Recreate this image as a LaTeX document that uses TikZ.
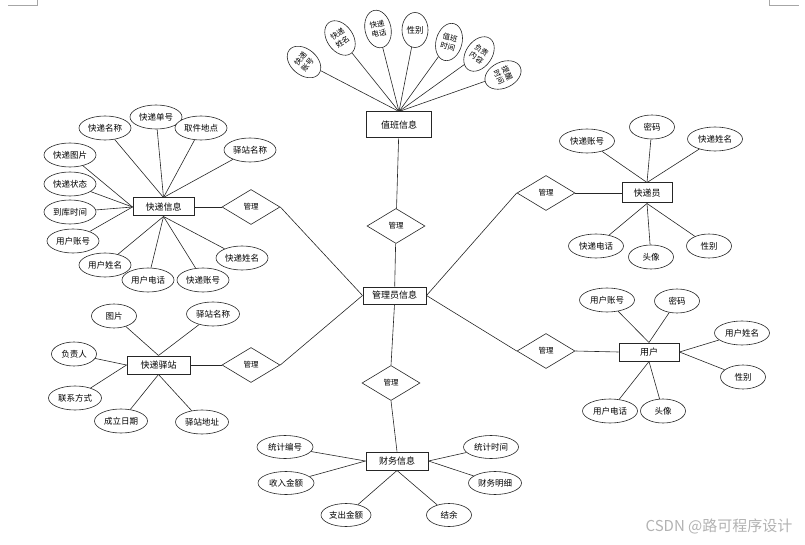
\documentclass[tikz,border=0pt]{standalone}
\usepackage{fontspec}
\newfontfamily\cjk{Noto Sans CJK SC}
\usetikzlibrary{shapes.geometric}
\tikzset{
  lnk/.style={draw=black!85, line width=0.6pt},
  attr/.style={ellipse, draw=black!85, line width=0.6pt, fill=white, inner sep=0pt,
     minimum width=52pt, minimum height=24pt, font=\cjk\fontsize{8.5}{10}\selectfont},
  tattr/.style={ellipse, draw=black!85, line width=0.6pt, fill=white, inner sep=0pt,
     minimum width=26pt, minimum height=38pt, align=center,
     font=\cjk\fontsize{7.5}{9}\selectfont},
  ent/.style={rectangle, draw=black!85, line width=1pt, fill=white, inner sep=0pt,
     minimum height=18pt, font=\cjk\fontsize{9}{10}\selectfont},
  rel/.style={diamond, draw=black!85, line width=0.6pt, fill=white, inner sep=0pt,
     minimum width=58pt, minimum height=35pt, font=\cjk\fontsize{7.5}{9}\selectfont},
  cornermark/.style={draw=black!35, line width=0.5pt}
}
\begin{document}
\begin{tikzpicture}[x=1pt,y=-1pt]
\useasboundingbox (0,0) rectangle (805,545);
\draw[cornermark] (8,5) -- (37,5) -- (37,0);
\draw[cornermark] (769,0) -- (769,5) -- (799,5);

% entities
\node[ent, minimum width=65pt, minimum height=26pt] (zb) at (399,125) {值班信息};
\node[ent, minimum width=63pt, minimum height=17pt] (gl) at (394.5,295.5) {管理员信息};
\node[ent, minimum width=61pt] (kd) at (163.5,207) {快递信息};
\node[ent, minimum width=63pt] (yz) at (158.5,365) {快递驿站};
\node[ent, minimum width=50pt, minimum height=20pt] (kdy) at (647,193) {快递员};
\node[ent, minimum width=60pt] (yh) at (649,352) {用户};
\node[ent, minimum width=62pt] (cw) at (397,461) {财务信息};

% relations
\node[rel] (m1) at (396,226) {管理};
\node[rel] (mkd) at (251,207) {管理};
\node[rel] (myz) at (251,365) {管理};
\node[rel] (mcw) at (391,383) {管理};
\node[rel] (mkdy) at (546,193) {管理};
\node[rel] (myh) at (546,351) {管理};

\draw[lnk] (zb) -- (m1);
\draw[lnk] (m1) -- (gl);
\draw[lnk] (kd.east) -- (mkd.west);
\draw[lnk] (mkd.east) -- (gl.west);
\draw[lnk] (yz.east) -- (myz.west);
\draw[lnk] (myz.east) -- (gl.west);
\draw[lnk] (gl.south) -- (mcw.north);
\draw[lnk] (mcw.south) -- (cw.north);
\draw[lnk] (gl.east) -- (mkdy.west);
\draw[lnk] (mkdy.east) -- (kdy.west);
\draw[lnk] (gl.east) -- (myh.west);
\draw[lnk] (myh.east) -- (yh.west);

% top attributes
\node[tattr, rotate=50] (t1) at (304,62) {快递\\账号};
\node[tattr, rotate=35] (t2) at (340,38) {快递\\姓名};
\node[tattr, rotate=12] (t3) at (378,29) {快递\\电话};
\node[tattr, minimum width=26pt, minimum height=35pt, font=\cjk\fontsize{8.5}{10}\selectfont] (t4) at (415,30) {性别};
\node[tattr, rotate=-15] (t5) at (449,42) {值班\\时间};
\node[tattr, rotate=-35] (t6) at (479,54) {负责\\内容};
\node[tattr, rotate=-65] (t7) at (503,75) {提醒\\时间};
\foreach \t in {t1,t2,t3,t4,t5,t6,t7} \draw[lnk] (\t) -- (zb.north);

% 快递信息 attributes
\node[attr] (a1) at (105,128) {快递名称};
\node[attr] (a2) at (156,117) {快递单号};
\node[attr] (a3) at (201,128) {取件地点};
\node[attr] (a4) at (250,150) {驿站名称};
\node[attr] (a5) at (70,155) {快递图片};
\node[attr] (a6) at (70,184) {快递状态};
\node[attr] (a7) at (70,212) {到库时间};
\node[attr] (a8) at (73,241) {用户账号};
\node[attr] (a9) at (105,265) {用户姓名};
\node[attr] (a10) at (148,280) {用户电话};
\node[attr] (a11) at (203,280) {快递账号};
\node[attr] (a12) at (242,258) {快递姓名};
\foreach \a in {a1,a2,a3,a4} \draw[lnk] (\a) -- (kd.north);
\foreach \a in {a5,a6,a7,a8} \draw[lnk] (\a) -- (kd.west);
\foreach \a in {a9,a10,a11,a12} \draw[lnk] (\a) -- (kd.south);

% 快递驿站 attributes
\node[attr, minimum width=45pt] (b1) at (114,316) {图片};
\node[attr, minimum width=53pt] (b2) at (213,314) {驿站名称};
\node[attr, minimum width=45pt] (b3) at (74,354) {负责人};
\node[attr, minimum width=53pt] (b4) at (75,398) {联系方式};
\node[attr, minimum width=53pt] (b5) at (121,421) {成立日期};
\node[attr, minimum width=53pt] (b6) at (202,422) {驿站地址};
\foreach \b in {b1,b2} \draw[lnk] (\b) -- (yz.north);
\foreach \b in {b3,b4} \draw[lnk] (\b) -- (yz.west);
\foreach \b in {b5,b6} \draw[lnk] (\b) -- (yz.south);

% 快递员 attributes
\node[attr, minimum width=55pt] (c1) at (587,141) {快递账号};
\node[attr, minimum width=45pt] (c2) at (652,127) {密码};
\node[attr, minimum width=55pt] (c3) at (715,139) {快递姓名};
\node[attr, minimum width=55pt] (c4) at (596,246) {快递电话};
\node[attr, minimum width=45pt] (c5) at (651,257) {头像};
\node[attr, minimum width=45pt] (c6) at (709,246) {性别};
\foreach \c in {c1,c2,c3} \draw[lnk] (\c) -- (kdy.north);
\foreach \c in {c4,c5,c6} \draw[lnk] (\c) -- (kdy.south);

% 用户 attributes
\node[attr, minimum width=55pt] (d1) at (607,300) {用户账号};
\node[attr, minimum width=45pt] (d2) at (677,301) {密码};
\node[attr, minimum width=55pt] (d3) at (742,333) {用户姓名};
\node[attr, minimum width=45pt] (d4) at (743,377) {性别};
\node[attr, minimum width=55pt] (d5) at (610,411) {用户电话};
\node[attr, minimum width=45pt] (d6) at (663,411) {头像};
\foreach \d in {d1,d2} \draw[lnk] (\d) -- (yh.north);
\foreach \d in {d3,d4} \draw[lnk] (\d) -- (yh.east);
\foreach \d in {d5,d6} \draw[lnk] (\d) -- (yh.south);

% 财务信息 attributes
\node[attr, minimum width=56pt, minimum height=23pt] (e1) at (285,447) {统计编号};
\node[attr, minimum width=56pt, minimum height=23pt] (e2) at (286,483) {收入金额};
\node[attr, minimum width=50pt, minimum height=23pt] (e3) at (346,515) {支出金额};
\node[attr, minimum width=45pt, minimum height=23pt] (e4) at (449,515) {结余};
\node[attr, minimum width=55pt, minimum height=23pt] (e5) at (491,447) {统计时间};
\node[attr, minimum width=53pt, minimum height=23pt] (e6) at (495,483) {财务明细};
\foreach \e in {e1,e2} \draw[lnk] (\e) -- (cw.west);
\foreach \e in {e3,e4} \draw[lnk] (\e) -- (cw.south);
\foreach \e in {e5,e6} \draw[lnk] (\e) -- (cw.east);

% watermark
\node[text=black!30, font=\cjk\fontsize{15}{17}\selectfont, inner sep=0pt] (wm) at (719,526) {CSDN @路可程序设计};
\end{tikzpicture}
\end{document}
